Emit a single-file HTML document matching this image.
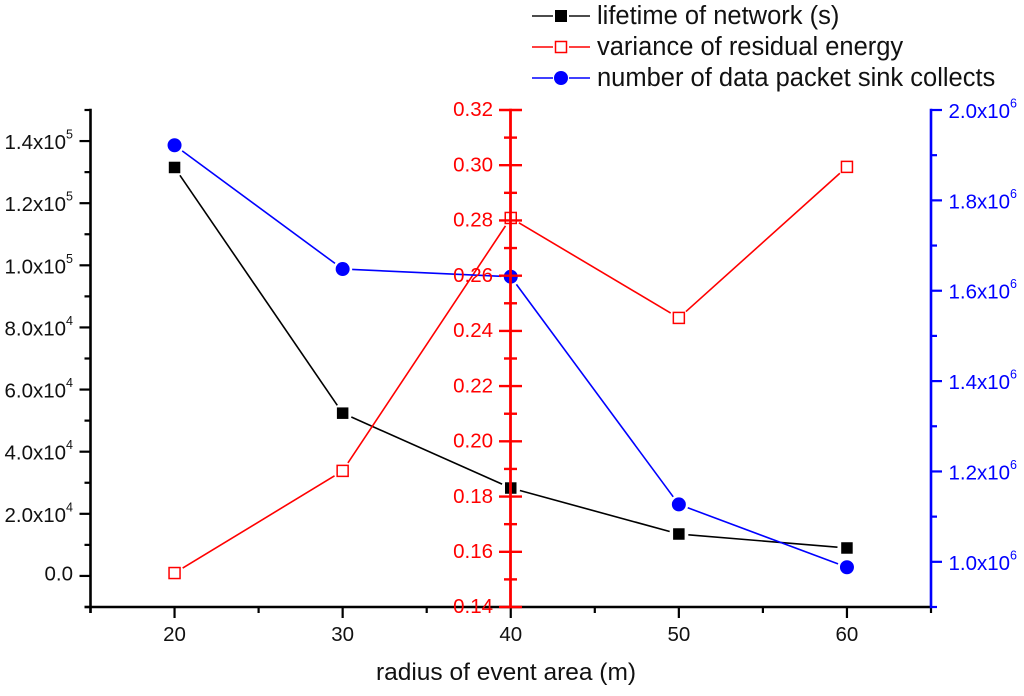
<!DOCTYPE html>
<html lang="en">
<head>
<meta charset="utf-8">
<title>Network lifetime, residual energy variance and data packets vs radius of event area</title>
<style>
html,body{margin:0;padding:0;background:#fff;}
svg{display:block;font-family:"Liberation Sans",Arial,sans-serif;}
</style>
</head>
<body>
<svg id="chart" width="1024" height="696" viewBox="0 0 1024 696" xmlns="http://www.w3.org/2000/svg">
  <rect x="0" y="0" width="1024" height="696" fill="#fff"/>
  <g id="series-layer"></g>
  <g id="axes-layer"></g>
  <text x="506" y="680" font-size="24.5" text-anchor="middle" fill="#111">radius of event area (m)</text>
  <g>
    <g>
      <line x1="532" y1="16" x2="553" y2="16" stroke="#111" stroke-width="1.5"/>
      <line x1="569" y1="16" x2="590" y2="16" stroke="#111" stroke-width="1.5"/>
      <rect x="555" y="10" width="12" height="12" fill="#000"/>
      <text x="597" y="24" font-size="25.5" fill="#111">lifetime of network (s)</text>
    </g>
    <g>
      <line x1="532" y1="47" x2="553" y2="47" stroke="#f00" stroke-width="1.5"/>
      <line x1="569" y1="47" x2="590" y2="47" stroke="#f00" stroke-width="1.5"/>
      <rect x="555.5" y="41.5" width="11" height="11" fill="#fff" stroke="#f00" stroke-width="1.5"/>
      <text x="597" y="55" font-size="25.5" fill="#111">variance of residual energy</text>
    </g>
    <g>
      <line x1="532" y1="78" x2="553" y2="78" stroke="#00f" stroke-width="1.5"/>
      <line x1="569" y1="78" x2="590" y2="78" stroke="#00f" stroke-width="1.5"/>
      <circle cx="561" cy="78" r="7" fill="#00f"/>
      <text x="597" y="86" font-size="25.5" fill="#111">number of data packet sink collects</text>
    </g>
  </g>
</svg>
<script>
// Data
const categories = [20, 30, 40, 50, 60];
const lifetimeValues = [131500, 52400, 28300, 13500, 9000];
const varianceValues = [0.1523, 0.1893, 0.2809, 0.2447, 0.2994];
const packetValues = [1922000, 1648000, 1631000, 1127000, 988000];

const xTicks = [20, 30, 40, 50, 60];
const xMinorTicks = [15, 25, 35, 45, 55, 65];
const xTickLabels = ["20", "30", "40", "50", "60"];

const leftTicks = [0, 20000, 40000, 60000, 80000, 100000, 120000, 140000];
const leftMinorTicks = [-10000, 10000, 30000, 50000, 70000, 90000, 110000, 130000, 150000];
const leftTickLabels = ["0.0", "2.0x10^4", "4.0x10^4", "6.0x10^4", "8.0x10^4", "1.0x10^5", "1.2x10^5", "1.4x10^5"];

const midTicks = [0.14, 0.16, 0.18, 0.20, 0.22, 0.24, 0.26, 0.28, 0.30, 0.32];
const midMinorTicks = [0.15, 0.17, 0.19, 0.21, 0.23, 0.25, 0.27, 0.29, 0.31];
const midTickLabels = ["0.14", "0.16", "0.18", "0.20", "0.22", "0.24", "0.26", "0.28", "0.30", "0.32"];

const rightTicks = [1000000, 1200000, 1400000, 1600000, 1800000, 2000000];
const rightMinorTicks = [900000, 1100000, 1300000, 1500000, 1700000, 1900000];
const rightTickLabels = ["1.0x10^6", "1.2x10^6", "1.4x10^6", "1.6x10^6", "1.8x10^6", "2.0x10^6"];

// Axis functions
const plotTop = 110, plotBottom = 607, plotLeft = 90.5, plotRight = 931, midX = 510.5;
function xScale(v) { return plotLeft + (v - 15) / 50 * (plotRight - plotLeft); }
function yLeft(v) { return plotBottom - (v + 10000) / 160000 * (plotBottom - plotTop); }
function yMid(v) { return plotBottom - (v - 0.14) / 0.18 * (plotBottom - plotTop); }
function yRight(v) { return plotBottom - (v - 900000) / 1100000 * (plotBottom - plotTop); }

const NS = "http://www.w3.org/2000/svg";
const seriesLayer = document.getElementById("series-layer");
const axesLayer = document.getElementById("axes-layer");

function svgEl(tag, attrs, parent) {
  const el = document.createElementNS(NS, tag);
  for (const k in attrs) el.setAttribute(k, attrs[k]);
  parent.appendChild(el);
  return el;
}

function drawLine(x1, y1, x2, y2, color, width, parent) {
  return svgEl("line", { x1: x1, y1: y1, x2: x2, y2: y2, stroke: color, "stroke-width": width }, parent);
}

function drawTickLabel(label, x, y, anchor, color) {
  const parts = label.split("^");
  const t = svgEl("text", { x: x, y: y, "text-anchor": anchor, "font-size": 20.5, fill: color }, axesLayer);
  
  
  t.appendChild(document.createTextNode(parts[0]));
  if (parts[1]) {
    const s = svgEl("tspan", { dy: -10.5, "font-size": 12.5 }, t);
    s.textContent = parts[1];
  }
}

function drawSeries(values, scale, color, markerKind, name) {
  const g = svgEl("g", {}, seriesLayer);
  
  
  const gap = 9.5;
  for (let i = 0; i < values.length - 1; i++) {
    const ax = xScale(categories[i]), ay = scale(values[i]);
    const bx = xScale(categories[i + 1]), by = scale(values[i + 1]);
    const len = Math.hypot(bx - ax, by - ay);
    const ux = (bx - ax) / len, uy = (by - ay) / len;
    const seg = drawLine(ax + ux * gap, ay + uy * gap, bx - ux * gap, by - uy * gap, color, 1.6, g);
    
    
  }
  values.forEach(function (v, i) {
    const cx = xScale(categories[i]), cy = scale(v);
    let m;
    if (markerKind === "circle") {
      m = svgEl("circle", { cx: cx, cy: cy, r: 7, fill: color }, g);
    } else if (markerKind === "open") {
      m = svgEl("rect", { x: cx - 5.5, y: cy - 5.5, width: 11, height: 11, fill: "#fff", stroke: color, "stroke-width": 1.5 }, g);
    } else {
      m = svgEl("rect", { x: cx - 5.75, y: cy - 5.75, width: 11.5, height: 11.5, fill: color }, g);
    }
    
    
  });
}

drawSeries(lifetimeValues, yLeft, "#000", "square", "lifetime-series");
drawSeries(varianceValues, yMid, "#f00", "open", "variance-series");
drawSeries(packetValues, yRight, "#00f", "circle", "packets-series");

// Left axis
const leftSpine = drawLine(plotLeft, plotTop - 1.2, plotLeft, plotBottom + 6, "#000", 2.6, axesLayer);


leftTicks.forEach(function (v, i) {
  const y = yLeft(v);
  const tick = drawLine(plotLeft - 11, y, plotLeft, y, "#000", 2.2, axesLayer);
  
  
  const hasExponent = leftTickLabels[i].indexOf("^") >= 0;
  drawTickLabel(leftTickLabels[i], 73, y + (hasExponent ? 8 : 4.5), "end", "#111");
});
leftMinorTicks.forEach(function (v) {
  const y = yLeft(v);
  const tick = drawLine(plotLeft - 6, y, plotLeft, y, "#000", 2.2, axesLayer);
  
  
});

// Bottom axis
const bottomSpine = drawLine(plotLeft - 6, plotBottom, plotRight, plotBottom, "#000", 2.6, axesLayer);


xTicks.forEach(function (v, i) {
  const x = xScale(v);
  const tick = drawLine(x, plotBottom, x, plotBottom + 11, "#000", 2.2, axesLayer);
  
  
  drawTickLabel(xTickLabels[i], x, 641, "middle", "#111");
});
xMinorTicks.forEach(function (v) {
  const x = xScale(v);
  const tick = drawLine(x, plotBottom, x, plotBottom + 6, "#000", 2.2, axesLayer);
  
  
});

// Middle red axis
const midSpine = drawLine(midX, plotTop - 1.2, midX, plotBottom + 1.2, "#f00", 2.8, axesLayer);


midTicks.forEach(function (v, i) {
  const y = yMid(v);
  const tick = drawLine(midX - 11.5, y, midX + 11.5, y, "#f00", 2.4, axesLayer);
  
  
  drawTickLabel(midTickLabels[i], 493, y + 6.2, "end", "#f00");
});
midMinorTicks.forEach(function (v) {
  const y = yMid(v);
  const tick = drawLine(midX - 6.5, y, midX + 6.5, y, "#f00", 2.4, axesLayer);
  
  
});

// Right blue axis
const rightSpine = drawLine(plotRight, plotTop - 1.2, plotRight, plotBottom + 1.2, "#00f", 2.6, axesLayer);


rightTicks.forEach(function (v, i) {
  const y = yRight(v);
  const tick = drawLine(plotRight, y, plotRight + 11, y, "#00f", 2.2, axesLayer);
  
  
  drawTickLabel(rightTickLabels[i], 1017, y + 8, "end", "#00f");
});
rightMinorTicks.forEach(function (v) {
  const y = yRight(v);
  const tick = drawLine(plotRight, y, plotRight + 6, y, "#00f", 2.2, axesLayer);
  
  
});
</script>
</body>
</html>
